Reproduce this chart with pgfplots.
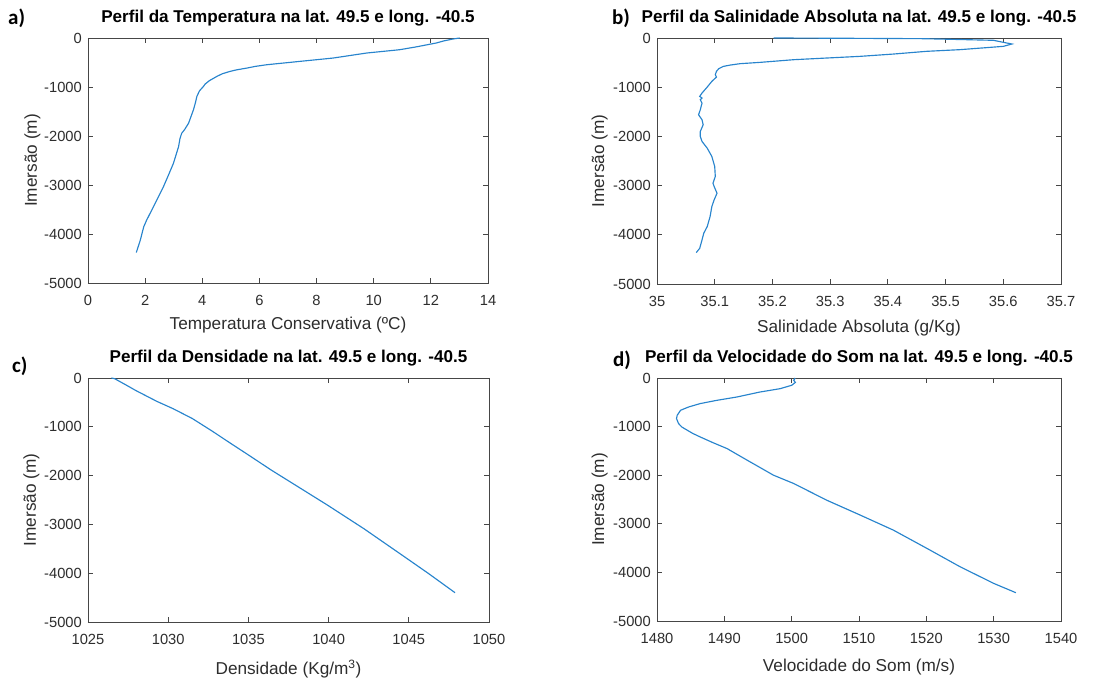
\documentclass[border=0pt]{standalone}
\usepackage{fontspec}
\setmainfont{Liberation Sans}
\newfontfamily\labfont{Carlito}
\usepackage{pgfplots}
\pgfplotsset{compat=1.18}
\definecolor{mline}{RGB}{40,132,205}
\definecolor{axc}{RGB}{70,70,70}
\definecolor{txc}{RGB}{45,45,45}
\pgfplotsset{
  mystyle/.style={
    scale only axis,
    axis line style={axc, line width=0.8pt},
    tick style={axc, line width=0.8pt},
    major tick length=5pt,
    tick align=inside,
    tick pos=both,
    ymin=-5000, ymax=0,
    ytick={-5000,-4000,-3000,-2000,-1000,0},
    yticklabels={-5000,-4000,-3000,-2000,-1000,0},
    ticklabel style={font=\fontsize{14.7}{16}\selectfont, text=txc},
    xticklabel style={anchor=north, inner sep=0pt, yshift=-12.5pt},
    yticklabel style={anchor=east, inner sep=0pt, xshift=-6pt},
    label style={font=\fontsize{17.2}{19}\selectfont, text=txc},
    ylabel={Imers\~ao (m)},
    title style={font=\bfseries\fontsize{17.1}{19}\selectfont, text=black, at={(axis description cs:0.5,1)}, anchor=base, yshift=9.5pt, inner sep=0pt},
    /pgf/number format/assume math mode=true,
    cycle list={{mline, mark=none}},
    every axis plot post/.append style={line width=1.15pt},
  }
}
\begin{document}
\begin{tikzpicture}[x=1pt,y=1pt]
\path[use as bounding box] (0,0) rectangle (1113,679);
% a
\begin{axis}[mystyle, at={(88pt,396pt)}, anchor=south west, width=400pt, height=245pt,
  xmin=0, xmax=14, xtick={0,2,...,14}, xticklabels={0,2,4,6,8,10,12,14},
  xlabel={Temperatura Conservativa (ºC)},
  xlabel style={at={(axis description cs:0.5,0)}, anchor=base, yshift=-47pt},
  ylabel style={at={(axis description cs:-0.1275,0.5)}, anchor=base},
  title={Perfil da Temperatura na lat. 49.5 e long. -40.5}]
\addplot table {
13.01 0
12.78 -20
12.45 -60
12.19 -102
11.50 -180
10.91 -239
9.75 -307
8.58 -409
7.42 -477
6.25 -546
5.85 -580
5.56 -614
5.20 -650
4.97 -682
4.70 -730
4.51 -784
4.25 -870
4.10 -940
4.04 -989
3.90 -1080
3.81 -1194
3.76 -1320
3.69 -1467
3.52 -1739
3.38 -1870
3.28 -1944
3.22 -2050
3.17 -2217
2.99 -2558
2.80 -2820
2.64 -3035
2.29 -3445
2.05 -3720
1.95 -3854
1.83 -4127
1.69 -4379
};
\end{axis}
% b
\begin{axis}[mystyle, at={(657pt,395pt)}, anchor=south west, width=404pt, height=246pt,
  xmin=35, xmax=35.7, xtick={35,35.1,35.2,35.3,35.4,35.5,35.6,35.7},
  xticklabels={35,35.1,35.2,35.3,35.4,35.5,35.6,35.7},
  xlabel={Salinidade Absoluta (g/Kg)},
  xlabel style={at={(axis description cs:0.5,0)}, anchor=base, yshift=-49pt},
  ylabel style={at={(axis description cs:-0.131,0.5)}, anchor=base},
  title={Perfil da Salinidade Absoluta na lat. 49.5 e long. -40.5}]
\addplot table {
35.202 0
35.330 -6
35.462 -14
35.583 -47
35.600 -88
35.615 -122
35.600 -170
35.525 -237
35.467 -271
35.410 -326
35.352 -373
35.294 -407
35.237 -441
35.179 -495
35.144 -522
35.127 -550
35.115 -577
35.107 -624
35.103 -678
35.101 -746
35.103 -794
35.095 -882
35.087 -997
35.078 -1119
35.074 -1187
35.078 -1221
35.075 -1255
35.078 -1323
35.075 -1459
35.072 -1560
35.078 -1662
35.080 -1764
35.075 -1900
35.075 -2001
35.078 -2103
35.087 -2239
35.095 -2408
35.100 -2612
35.101 -2815
35.097 -2951
35.099 -3019
35.104 -3155
35.099 -3290
35.095 -3426
35.092 -3629
35.087 -3833
35.081 -3968
35.078 -4104
35.074 -4274
35.068 -4362
};
\end{axis}
% c
\begin{axis}[mystyle, at={(88pt,57pt)}, anchor=south west, width=401pt, height=244pt,
  xmin=1025, xmax=1050, xtick={1025,1030,...,1050},
  xticklabels={1025,1030,1035,1040,1045,1050},
  xlabel={Densidade (Kg/m\textsuperscript{3})},
  xlabel style={at={(axis description cs:0.5,0)}, anchor=base, yshift=-53pt},
  ylabel style={at={(axis description cs:-0.1297,0.5)}, anchor=base},
  title={Perfil da Densidade na lat. 49.5 e long. -40.5}]
\addplot table {
1026.46 0
1026.66 -14
1027.30 -130
1028.00 -260
1028.65 -370
1029.30 -480
1030.30 -628
1031.50 -830
1032.75 -1090
1033.85 -1330
1034.88 -1551
1036.45 -1892
1038.15 -2240
1039.95 -2609
1042.20 -3088
1044.45 -3600
1046.20 -4000
1047.88 -4399
};
\end{axis}
% d
\begin{axis}[mystyle, at={(657pt,58pt)}, anchor=south west, width=404pt, height=243pt,
  xmin=1480, xmax=1540, xtick={1480,1490,...,1540},
  xticklabels={1480,1490,1500,1510,1520,1530,1540},
  xlabel={Velocidade do Som (m/s)},
  xlabel style={at={(axis description cs:0.5,0)}, anchor=base, yshift=-51pt},
  ylabel style={at={(axis description cs:-0.131,0.5)}, anchor=base},
  title={Perfil da Velocidade do Som na lat. 49.5 e long. -40.5}]
\addplot table {
1500.53 0
1500.30 -48
1500.55 -90
1500.00 -150
1498.30 -219
1495.30 -288
1491.90 -390
1488.90 -459
1486.40 -527
1484.70 -596
1483.50 -664
1483.00 -767
1482.90 -836
1483.20 -938
1483.70 -1010
1484.50 -1075
1485.30 -1140
1486.40 -1212
1488.30 -1330
1490.40 -1452
1493.40 -1692
1497.30 -2000
1500.30 -2171
1505.20 -2514
1510.20 -2822
1515.10 -3130
1520.10 -3507
1525.00 -3883
1530.00 -4226
1533.30 -4418
};
\end{axis}
\node[anchor=base west, inner sep=0pt, font=\labfont\bfseries\fontsize{21}{24}\selectfont] at (8,654) {a)};
\node[anchor=base west, inner sep=0pt, font=\labfont\bfseries\fontsize{21}{24}\selectfont] at (612,654) {b)};
\node[anchor=base west, inner sep=0pt, font=\labfont\bfseries\fontsize{21}{24}\selectfont] at (12,306) {c)};
\node[anchor=base west, inner sep=0pt, font=\labfont\bfseries\fontsize{21}{24}\selectfont] at (613,312) {d)};
\end{tikzpicture}
\end{document}
